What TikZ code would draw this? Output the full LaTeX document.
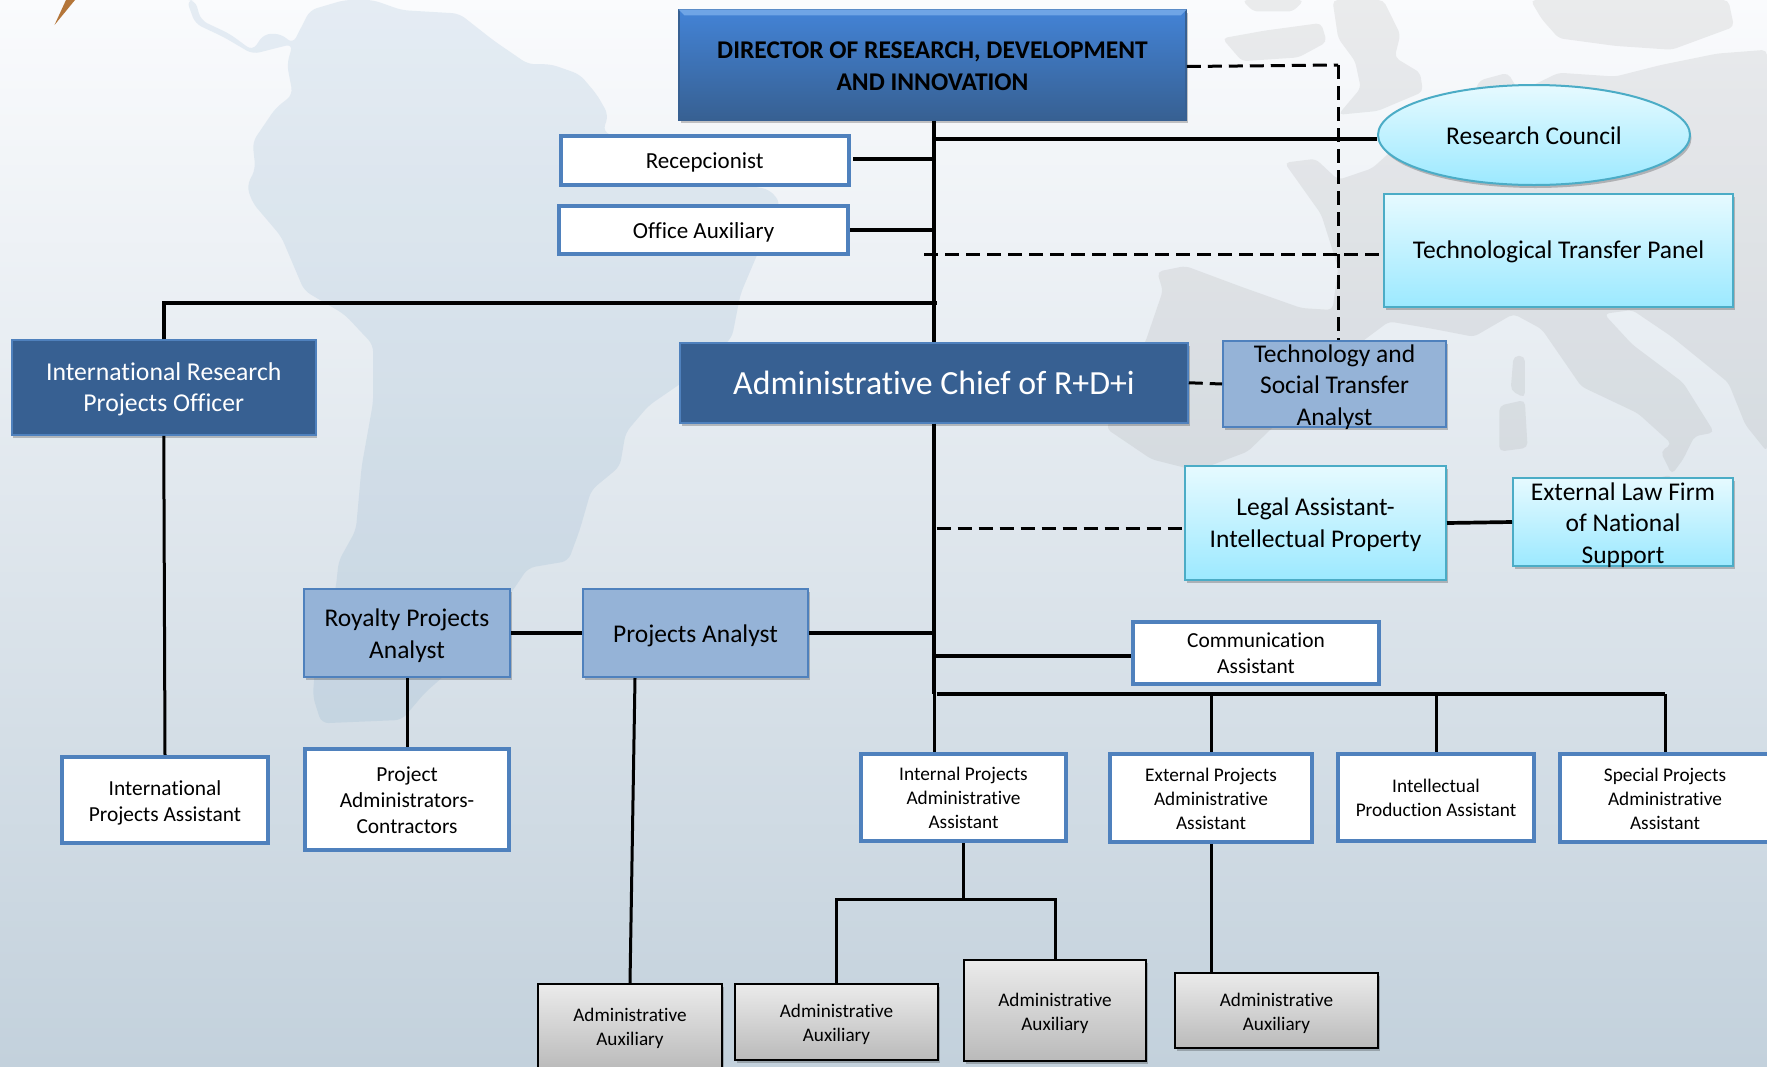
\documentclass[tikz,border=0pt]{standalone}
\usepackage{fontspec}
\setmainfont[Ligatures=NoCommon]{Carlito}
\usetikzlibrary{shapes.geometric,shadows,calc}
\definecolor{edgeblue}{HTML}{4F81BD}
\definecolor{chieffill}{HTML}{376092}
\definecolor{midfill}{HTML}{95B3D7}
\definecolor{cyanedge}{HTML}{4BACC6}
\definecolor{bgtop}{HTML}{FAFBFD}
\definecolor{bgmid}{HTML}{E2E7EE}
\definecolor{bgbot}{HTML}{C3D1DC}
\definecolor{landblue}{HTML}{6F9CC0}
\definecolor{sliver}{HTML}{B4763A}
\definecolor{bevel}{HTML}{6FA5E6}
\definecolor{dirtop}{HTML}{4383D6}
\definecolor{cyantop}{HTML}{E6FAFF}
\definecolor{cyanbot}{HTML}{9CE9FF}
\definecolor{greytop}{HTML}{EBEBEB}
\definecolor{greybot}{HTML}{BABABA}
\newcommand\tp[1]{\rule{0pt}{\dimexpr .73em+#1pt\relax}}
\tikzset{
  x=1pt,y=-1pt,
  softshadow/.style={general shadow={shadow xshift=1.5pt,shadow yshift=-3pt,fill=black,opacity=.22}},
  orgbox/.style={rectangle,align=center,inner sep=0pt,text=black,draw},
  dirbox/.style={orgbox,softshadow,draw=chieffill,line width=1.5pt,top color=dirtop,bottom color=chieffill,font=\fontsize{25.5}{32}\selectfont\bfseries},
  chiefbox/.style={orgbox,softshadow,draw=edgeblue,line width=1.5pt,fill=chieffill,text=white},
  midbox/.style={orgbox,softshadow,draw=edgeblue,line width=2pt,fill=midfill,font=\fontsize{25.5}{31.5}\selectfont},
  cyanbox/.style={orgbox,softshadow,draw=cyanedge,line width=2pt,top color=cyantop,bottom color=cyanbot,font=\fontsize{25.5}{31.5}\selectfont},
  whitebox/.style={orgbox,draw=edgeblue,line width=4.5pt,fill=white,font=\fontsize{21.4}{26}\selectfont},
  greybox/.style={orgbox,softshadow,draw=black,line width=2pt,top color=greytop,bottom color=greybot,font=\fontsize{19.2}{24}\selectfont},
  conn/.style={line width=3pt,draw=black},
  thickconn/.style={line width=3.7pt,draw=black},
  dashconn/.style={line width=3pt,draw=black,dash pattern=on 14pt off 7pt},
}
\begin{document}
\begin{tikzpicture}
\path[use as bounding box] (0,0) rectangle (1767,1066);
\clip (0,0) rectangle (1767,1066);
\shade[top color=bgtop,middle color=bgmid,bottom color=bgbot] (0,0) rectangle (1767,1066);
% South America (outline read off the crop)
\begin{scope}[x=0.574pt,y=-0.338pt,rounded corners=7pt]
\fill[fill=landblue,fill opacity=.15]
 (340,0) -- (350,60) -- (400,100) -- (440,150) -- (460,100) -- (490,100) -- (510,130) -- (540,30) -- (600,0)
 -- (650,0) -- (700,30) -- (800,40) -- (860,120) -- (920,190) -- (960,190) -- (1010,220) -- (1040,280) -- (1060,340) -- (1050,390)
 -- (1100,420) -- (1200,520) -- (1340,560) -- (1360,600) -- (1320,750) -- (1290,870) -- (1275,1000) -- (1190,1130) -- (1130,1200)
 -- (1090,1280) -- (1080,1380) -- (1030,1450) -- (1010,1568) -- (990,1660) -- (920,1680) -- (880,1780) -- (800,1960) -- (740,2050) -- (700,2130)
 -- (560,2140) -- (545,2060) -- (550,1950) -- (585,1740) -- (590,1660) -- (620,1568) -- (630,1380) -- (650,1190) -- (650,1020) -- (600,930) -- (530,860)
 -- (490,700) -- (440,600) -- (430,550) -- (445,500) -- (440,420) -- (460,370) -- (480,320) -- (510,280) -- (500,190) -- (510,130) -- (440,160) -- (390,110) -- (340,70) -- (325,0) -- cycle;
\end{scope}
% Europe (outline read off the crop)
\begin{scope}[shift={(880,0)},x=0.5656pt,y=-0.3827pt,rounded corners=5pt]
\fill[fill=gray,fill opacity=.13]
 (715,425) -- (770,415) -- (810,470) -- (870,440) -- (900,400) -- (960,330) -- (1040,280) -- (1060,210) -- (1110,190) -- (1130,240) -- (1200,190)
 -- (1300,200) -- (1380,170) -- (1480,140) -- (1568,130) -- (1568,1180) -- (1530,1110) -- (1500,1000) -- (1400,880) -- (1330,810) -- (1280,820)
 -- (1330,900) -- (1420,1000) -- (1475,1130) -- (1440,1140) -- (1420,1200) -- (1400,1240) -- (1380,1180) -- (1400,1160) -- (1340,1080)
 -- (1240,1010) -- (1170,860) -- (1120,820) -- (1050,880) -- (980,860) -- (900,840) -- (800,950) -- (720,1080) -- (650,1180) -- (560,1230)
 -- (480,1200) -- (400,1120) -- (470,890) -- (500,760) -- (490,710) -- (540,695) -- (640,750) -- (745,805) -- (800,810) -- (810,700) -- (780,560) -- cycle;
\fill[fill=gray,fill opacity=.13] (800,0) -- (890,0) -- (920,90) -- (910,150) -- (955,190) -- (960,240) -- (880,290) -- (810,300) -- (850,230) -- (840,160) -- (810,100) -- cycle;
\fill[fill=gray,fill opacity=.13] (605,100) -- (680,80) -- (780,60) -- (790,110) -- (740,150) -- (640,160) -- cycle;
\fill[fill=gray,fill opacity=.13] (640,0) -- (750,0) -- (730,30) -- (660,30) -- cycle;
\fill[fill=gray,fill opacity=.13] (1150,0) -- (1500,0) -- (1510,70) -- (1400,130) -- (1300,120) -- (1200,100) -- (1170,50) -- cycle;
\fill[fill=gray,fill opacity=.13] (1120,930) -- (1140,930) -- (1140,1040) -- (1115,1020) -- cycle;
\fill[fill=gray,fill opacity=.13] (1095,1060) -- (1140,1045) -- (1145,1170) -- (1095,1180) -- cycle;
\fill[fill=gray,fill opacity=.13] (1290,1280) -- (1400,1240) -- (1390,1300) -- (1340,1310) -- cycle;
\end{scope}
% corner sliver
\fill[fill=sliver] (54.5,25) -- (66,0) -- (75,0) -- cycle;

% nodes
\node[dirbox,minimum width=507pt,minimum height=110pt] (dir) at (932.5,65) {\tp{0.3}DIRECTOR OF RESEARCH, DEVELOPMENT\\AND INNOVATION};
\fill[fill=bevel] (dir.north west) -- (dir.north east) -- ([shift={(-6pt,-6pt)}]dir.north east) -- ([shift={(6pt,-6pt)}]dir.north west) -- cycle;
\node[whitebox,font=\fontsize{23}{26}\selectfont,minimum width=288pt,minimum height=49pt] (recep) at (704.75,160.25) {\tp{2.5}Recepcionist};
\node[whitebox,font=\fontsize{23}{26}\selectfont,minimum width=289pt,minimum height=48pt] (office) at (703.5,230) {\tp{4.5}Office Auxiliary};
\node[chiefbox,font=\fontsize{25.7}{31.5}\selectfont,minimum width=304pt,minimum height=95pt] (irpo) at (163.75,387.5) {\tp{2.5}International Research\\Projects Officer};
\node[chiefbox,font=\fontsize{33.8}{40}\selectfont,minimum width=508pt,minimum height=80pt] (chief) at (934,382.75) {Administrative Chief of R+D+i};
\node[cyanbox,ellipse,minimum width=312pt,minimum height=100pt] (rc) at (1534,135) {\tp{0.3}Research Council};
\node[cyanbox,minimum width=349pt,minimum height=113pt] (ttp) at (1558.5,250.5) {\tp{2.3}Technological Transfer Panel};
\node[midbox,inner ysep=-12pt,minimum width=223pt,minimum height=86pt] (tsa) at (1334.5,384) {\tp{4.5}Technology and\\Social Transfer\\Analyst};
\node[cyanbox,minimum width=261pt,minimum height=114pt] (legal) at (1315.5,523) {\tp{2.5}Legal Assistant-\\Intellectual Property};
\node[cyanbox,inner ysep=-12pt,minimum width=220pt,minimum height=88pt] (law) at (1623,522) {\tp{4.5}External Law Firm\\of National\\Support};
\node[midbox,minimum width=206pt,minimum height=88pt] (roy) at (407,633) {\tp{4.5}Royalty Projects\\Analyst};
\node[midbox,minimum width=225pt,minimum height=88pt] (pa) at (695.5,633) {\tp{4.5}Projects Analyst};
\node[whitebox,minimum width=206pt,minimum height=86pt] (ia) at (165,800) {\tp{4.5}International\\Projects Assistant};
\node[whitebox,minimum width=204pt,minimum height=101pt] (pac) at (407,799.5) {\tp{0.3}Project\\Administrators-\\Contractors};
\node[whitebox,minimum width=246pt,minimum height=62pt] (comm) at (1256,653) {Communication\\Assistant};
\node[whitebox,font=\fontsize{19.3}{24}\selectfont,minimum width=205pt,minimum height=87pt] (int) at (963.5,797.5) {Internal Projects\\Administrative\\Assistant};
\node[whitebox,font=\fontsize{19.3}{24}\selectfont,minimum width=202pt,minimum height=88pt] (ext) at (1211,798) {\tp{0.3}External Projects\\Administrative\\Assistant};
\node[whitebox,font=\fontsize{19.3}{24}\selectfont,minimum width=196pt,minimum height=87pt] (prod) at (1436,797.5) {Intellectual\\Production Assistant};
\node[whitebox,font=\fontsize{19.3}{24}\selectfont,minimum width=210pt,minimum height=88pt] (spec) at (1665,798) {\tp{0.3}Special Projects\\Administrative\\Assistant};
\node[greybox,minimum width=184pt,minimum height=86pt] (aux1) at (630,1027) {\tp{2.5}Administrative\\Auxiliary};
\node[greybox,minimum width=203pt,minimum height=76pt] (aux2) at (836.5,1022) {\tp{4.5}Administrative\\Auxiliary};
\node[greybox,minimum width=182pt,minimum height=101pt] (aux3) at (1055,1010.5) {\tp{4.8}Administrative\\Auxiliary};
\node[greybox,minimum width=203pt,minimum height=75pt] (aux4) at (1276.5,1010.5) {\tp{4.8}Administrative\\Auxiliary};

% free connector ends
\coordinate (tk) at (934,120);
\coordinate (dashcorner) at (1338,65);
\coordinate (tdl) at (924,254);
\coordinate (j1) at (936.5,303);
\coordinate (bus0) at (936.5,694);
\coordinate (j2) at (963.5,899);

% connectors
\draw[thickconn] (tk |- dir.south) -- (tk |- chief.north);
\draw[thickconn] (tk |- chief.south) -- (tk |- bus0);
\draw[conn] (tk |- bus0) -- (tk |- int.north);
\draw[thickconn] ([yshift=-4pt]rc.west) -- ([yshift=-4pt]rc.west -| tk);
\draw[thickconn] ([xshift=2pt,yshift=1pt]recep.east) -- ([yshift=1pt]recep.east -| tk);
\draw[thickconn] (office.east) -- (office.east -| tk);
\draw[thickconn] (irpo.north) |- (j1);
\draw[conn] (irpo.south) -- (ia.north);
\draw[dashconn] ([yshift=-1.5pt]dir.east) -- (dashcorner);
\draw[dashconn] (dashcorner) -- (dashcorner |- tsa.north);
\draw[dashconn] ([yshift=-4pt]ttp.west -| tdl) -- ([yshift=-4pt]ttp.west);
\draw[dashconn] (chief.east) -- (tsa.west);
\draw[dashconn] ([yshift=-5pt,xshift=2.5pt]legal.west -| tk) -- ([yshift=-5pt]legal.west);
\draw[thickconn] (legal.east) -- (law.west);
\draw[thickconn] (roy.east) -- (pa.west);
\draw[thickconn] (pa.east) -- (pa.east -| tk);
\draw[conn] (roy.south) -- (pac.north);
\draw[conn] ([xshift=-60.5pt]pa.south) -- (aux1.north);
\draw[thickconn] ([yshift=-3pt]comm.west) -- ([yshift=-3pt]comm.west -| tk);
\draw[line width=4.2pt] (bus0) -- (bus0 -| spec.north);
\draw[conn] (ext.north |- bus0) -- (ext.north);
\draw[conn] (prod.north |- bus0) -- (prod.north);
\draw[conn] (spec.north |- bus0) -- (spec.north);
\draw[conn] (int.south) -- (j2);
\draw[conn] (aux2.north) |- (aux3.north |- j2) -- (aux3.north);
\draw[conn] (ext.south) -- (ext.south |- aux4.north);
\end{tikzpicture}
\end{document}
